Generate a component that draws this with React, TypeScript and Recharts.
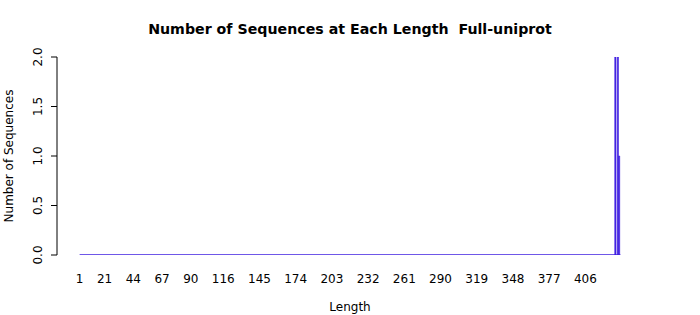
import React from 'react';
import { ComposedChart, Bar, Line, XAxis, YAxis, Label } from 'recharts';

// every sequence length from 1 up to the longest one seen
const lengths = Array.from({ length: 434 }, (_, i) => i + 1);
// only these lengths have any sequences, all others are 0
const peakLengths = [430, 432, 433];
const peakCounts = [2, 2, 1];
const xTicks = [1, 21, 44, 67, 90, 116, 145, 174, 203, 232, 261, 290, 319, 348, 377, 406];
const yTicks = [0, 0.5, 1, 1.5, 2];

const data = lengths.map((len) => {
  const idx = peakLengths.indexOf(len);
  return { length: len, count: idx >= 0 ? peakCounts[idx] : 0 };
});

const FONT = '"DejaVu Sans", sans-serif';
const BAR = '#3f1fe0';

const YTick = (props: any) => {
  const { x, y, payload } = props;
  return (
    <text x={x} y={y} transform={`rotate(-90, ${x}, ${y})`} textAnchor="middle" fontSize={12} fontFamily={FONT} fill="#000">
      {payload.value.toFixed(1)}
    </text>
  );
};

const YLabel = (props: any) => {
  const { viewBox } = props;
  const x = 12.5;
  const y = viewBox.y + viewBox.height / 2;
  return (
    <text x={x} y={y} transform={`rotate(-90, ${x}, ${y})`} textAnchor="middle" fontSize={12} fontFamily={FONT} fill="#000">
      Number of Sequences
    </text>
  );
};

const App: React.FC = () => {
  return (
    <div style={{ position: 'absolute', left: 0, top: 0, width: 700, height: 315, background: '#fff' }}>
      <div
        style={{
          position: 'absolute', top: 22, left: 0, width: 700, textAlign: 'center',
          fontFamily: FONT, fontWeight: 'bold', fontSize: 14.2, lineHeight: '14px', whiteSpace: 'pre', color: '#000',
        }}
      >
        {'Number of Sequences at Each Length  Full-uniprot'}
      </div>
      <ComposedChart width={700} height={315} data={data} margin={{ top: 57, right: 57, bottom: 0, left: 0 }} barGap={0}>
        <XAxis
          dataKey="length"
          type="category"
          ticks={xTicks}
          interval={0}
          height={60}
          padding={{ left: 22, right: 22 }}
          axisLine={false}
          tickLine={false}
          tickSize={0}
          tickMargin={19}
          tick={{ fontSize: 12, fontFamily: FONT, fill: '#000' }}
        >
          <Label value="Length" position="insideBottom" offset={4} style={{ fontSize: 12, fontFamily: FONT, fill: '#000' }} />
        </XAxis>
        <YAxis
          width={57}
          domain={[0, 2]}
          ticks={yTicks}
          allowDataOverflow
          interval={0}
          tickSize={6}
          tickMargin={9}
          axisLine={{ stroke: '#000' }}
          tickLine={{ stroke: '#000' }}
          tick={<YTick />}
          label={<YLabel />}
        />
        <Line dataKey={() => 0} stroke={BAR} strokeWidth={1.5} dot={false} activeDot={false} isAnimationActive={false} />
        <Bar dataKey="count" fill={BAR} stroke={BAR} strokeWidth={0.6} barSize={1.2} isAnimationActive={false} />
      </ComposedChart>
    </div>
  );
};

export default App;
